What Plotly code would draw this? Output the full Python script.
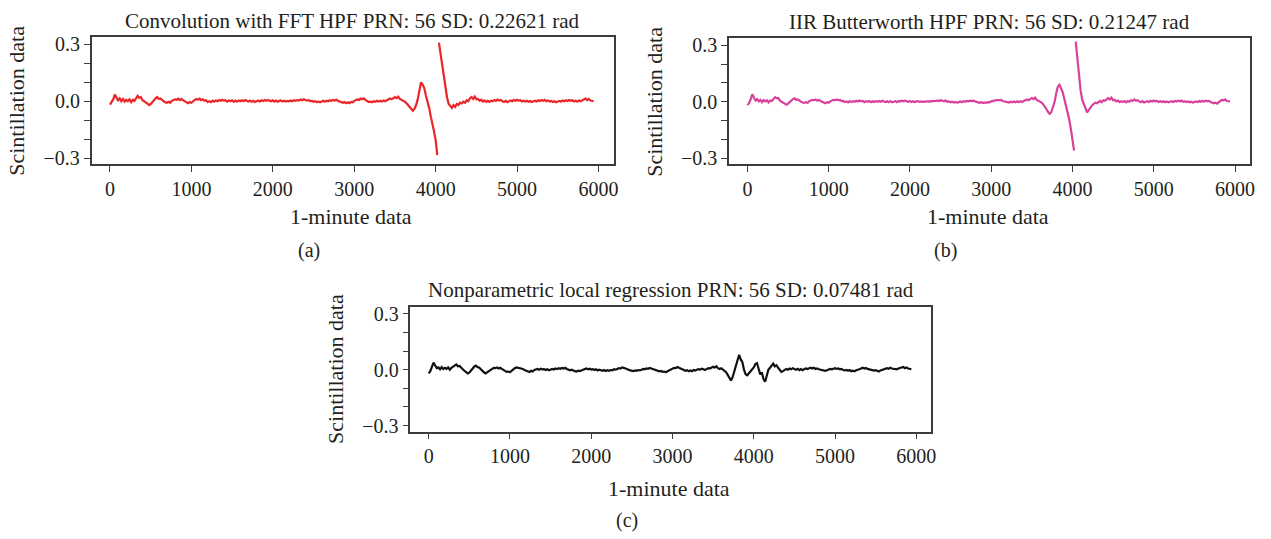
import plotly.graph_objects as go

# ---------------- data (values in milliradians) ----------------
STEP = 20            # minutes between listed samples
WRAP_MINUTE = 4030   # phase wrap: break in the FFT / IIR series
POST_START = 4040

fft_pre = [
    -18, -5, 10, 35, 20, 5,
    15, 0, 12, -2, 8,
    0, 10, -5, 8, 2,
    15, 28, 18, 22, 5,
    0, -8, -12, -20, -15,
    -5, 8, 15, 22, 12,
    15, 5, 0, -5, -8,
    -3, -8, 2, 5, 10,
    8, 14, 6, 12, 4,
    0, -5, -10, -4, -8,
    0, 6, 12, 8, 14,
    6, 10, 2, 5, -4,
    0, -5, 3, -2, 4,
    0, 6, 2, 8, 3,
    5, -2, 4, 0, 5,
    -3, 3, -2, 4, 0,
    5, 0, 6, 2, -2,
    3, -3, 2, -4, 0,
    4, -2, 5, 1, 6,
    2, 7, 3, 0, 5,
    -2, 3, -3, 2, 4,
    -1, 3, -2, 2, 0,
    4, 0, 5, 2, 6,
    4, 9, 5, 10, 6,
    3, 7, 0, 3, -3,
    0, -5, -1, -6, -2,
    2, -3, 3, 0, 5,
    2, 7, 4, 8, 3,
    0, -4, -8, -4, -10,
    -6, -10, -4, -6, 2,
    5, 10, 7, 14, 10,
    15, 6, 2, -4, -2,
    -5, 0, -3, 2, -2,
    3, -2, 4, 0, 5,
    8, 14, 10, 18, 22,
    16, 24, 12, 8, 2,
    -2, -10, -20, -30, -42,
    -50, -40, -20, 10, 50,
    100, 88, 70, 30, 0, -35, -80, -115, -160, -205, -285,
]
fft_post = [
    310, 250, 190, 140, 80, 20, -15, -25, -35,
    -20, -30, -15, -20, -8,
    -12, -2, -8, 5, 0,
    15, 22, 12, 25, 10,
    12, 3, 8, -2, 4,
    -3, 2, -4, 3, 0,
    6, 2, 9, 4, 7,
    0, -4, 2, -5, 0,
    4, 0, 6, 2, 8,
    3, 5, -1, 3, -2,
    2, -3, 1, -4, 0,
    3, -1, 5, 1, 6,
    2, 7, 0, 4, -2,
    1, -4, 0, -5, -2,
    2, -2, 4, 0, 5,
    1, 6, 2, 5, -1,
    3, -2, 4, 0, 6,
    10, 14, 6, 12, 4,
    2, 0,
]

iir_pre = [
    -18, -8, 12, 40, 22, 6,
    14, 2, 10, -2, 9,
    2, 8, -4, 6, 4,
    14, 24, 18, 20, 6,
    0, -6, -12, -16, -10,
    -2, 10, 14, 18, 10,
    12, 4, 0, -4, -6,
    -2, -6, 3, 6, 10,
    8, 12, 5, 10, 4,
    0, -4, -8, -3, -6,
    2, 6, 10, 8, 12,
    8, 10, 3, 4, -2,
    1, -4, 3, -2, 3,
    0, 5, 1, 6, 2,
    4, -2, 3, 0, 4,
    -3, 2, -2, 3, 0,
    4, 0, 5, 1, -2,
    2, -3, 3, -3, 0,
    3, -2, 4, 1, 5,
    2, 6, 2, 0, 4,
    -2, 2, -3, 2, 3,
    -1, 2, -2, 2, 0,
    3, 0, 4, 2, 5,
    3, 7, 4, 8, 5,
    2, 6, 0, 2, -3,
    0, -4, -1, -5, -2,
    1, -3, 3, 0, 4,
    2, 6, 3, 6, 2,
    0, -3, -6, -3, -7,
    -4, -6, -2, -3, 2,
    4, 8, 6, 10, 8,
    10, 4, 2, -3, -1,
    -4, 0, -3, 1, -3,
    2, -3, 3, -1, 4,
    6, 12, 8, 16, 20,
    14, 22, 10, 6, 0,
    -5, -14, -25, -40, -55,
    -65, -55, -30, 0, 45,
    80, 90, 70, 50, 15, -20, -55, -95, -145, -200, -260,
]
iir_post = [
    320, 235, 130, 60, 10, -15, -40, -57, -45,
    -30, -20, -12, -5, -8,
    -2, 4, -3, 8, 5,
    14, 20, 12, 22, 8,
    10, 2, 6, -2, 3,
    -2, 3, -3, 4, 0,
    8, 4, 12, 6, 8,
    2, -3, 3, -4, 0,
    3, -1, 5, 1, 6,
    2, 4, -1, 3, -2,
    2, -3, 1, -3, 0,
    3, -1, 4, 1, 5,
    2, 6, 0, 3, -2,
    1, -3, 0, -4, -1,
    2, -2, 4, 0, 4,
    1, 5, 2, 4, -1,
    -3, -8, -5, -10, -2,
    4, 10, 6, 12, 4,
    3, 1,
]

loess_vals = [
    -20, -8, 15, 38, 22, 8,
    12, 2, 14, 4, 10,
    4, 12, 0, 10, 18,
    22, 28, 18, 20, 8,
    2, -6, -12, -20, -16,
    -4, 10, 16, 22, 14,
    12, 2, -6, -14, -20,
    -14, -6, 2, 6, 10,
    8, 12, 6, 10, 4,
    0, -6, -12, -10, -14,
    -6, 2, 8, 12, 10,
    12, 6, 4, -2, -6,
    -8, -12, -6, -10, -2,
    0, 4, 0, 5, 2,
    3, -2, 2, -3, 0,
    4, 1, 6, 3, 8,
    5, 9, 6, 10, 4,
    2, -3, 0, -6, -8,
    -10, -5, -8, -2, 0,
    3, 6, 2, 5, 1,
    3, -2, 2, -4, 0,
    -3, -6, -2, -7, -3,
    -6, -2, -4, 2, 0,
    4, 8, 6, 12, 10,
    8, 4, 0, -4, -6,
    -8, -4, -6, -2, -4,
    0, 4, 2, 7, 5,
    9, 6, 3, 0, -4,
    -6, -9, -7, -12, -10,
    -14, -8, -4, 2, 6,
    10, 8, 14, 10, 6,
    2, -2, -6, -3, -8,
    -4, -8, -2, -5, 0,
    3, 0, 5, 2, -2,
    3, 8, 6, 12, 16,
    12, 18, 8, 4, 8,
    2, -6, -14, -28, -40,
    -58, -40, -10, 30, 60,
    80, 55, 40, 0, -25,
    -30, -20, -8, 0, 12,
    30, 35, 5, -25, -15,
    -50, -65, -30, 0, 10,
    25, 32, 18, 24, 10,
    0, -12, -8, -4, 4,
    0, 6, 2, 8, 4,
    0, 5, -2, 3, -3,
    2, 6, 3, 8, 10,
    6, 10, 4, 7, 2,
    0, -4, -2, -6, -3,
    0, 4, 2, 6, 8,
    4, 7, 2, 4, -2,
    -4, -1, -6, -2, -8,
    -5, -9, -3, -2, 2,
    6, 10, 6, 9, 4,
    2, -2, 0, -5, -3,
    -8, -10, -4, -2, 2,
    4, 8, 5, 10, 6,
    4, 0, 2, 6, 8,
    10, 14, 8, 12, 6,
    4, 2,
]

titles = [
    "Convolution with FFT HPF PRN: 56 SD: 0.22621 rad",
    "IIR Butterworth HPF PRN: 56 SD: 0.21247 rad",
    "Nonparametric local regression PRN: 56 SD: 0.07481 rad",
]
panel_tags = ["(a)", "(b)", "(c)"]
colors = ["#ec2527", "#d8409a", "#111111"]
x_ticks = [0, 1000, 2000, 3000, 4000, 5000, 6000]
y_ticks = [-0.3, -0.2, -0.1, 0.0, 0.1, 0.2, 0.3]
y_ticktext = ["\u22120.3", "", "", "0.0", "", "", "0.3"]
x_label = "1-minute data"
y_label = "Scintillation data"

assert len(fft_pre) == 202 and len(iir_pre) == 202, (len(fft_pre), len(iir_pre))
assert len(fft_post) == 96 and len(iir_post) == 96, (len(fft_post), len(iir_post))
assert len(loess_vals) == 298, len(loess_vals)


def wrapped(pre, post):
    x = [i * STEP for i in range(len(pre))] + [WRAP_MINUTE] + \
        [POST_START + i * STEP for i in range(len(post))]
    y = [v / 1000 for v in pre] + [None] + [v / 1000 for v in post]
    return x, y


series = [
    wrapped(fft_pre, fft_post),
    wrapped(iir_pre, iir_post),
    ([i * STEP for i in range(len(loess_vals))], [v / 1000 for v in loess_vals]),
]

W, H = 1271, 539
# plot boxes in pixels: (left, top, right, bottom)
boxes = [(92, 34, 616, 163), (732, 35, 1255, 163), (412, 308, 935, 435)]
# vertical offsets below box bottom for x-label and panel tag
xlab_off = [53, 53, 58]
tag_off = [88, 88, 90]

FONT = "Liberation Serif"
TXT = "#231f20"
AX = "#3c3c3c"

fig = go.Figure()
annotations = []
for i, ((x, y), box) in enumerate(zip(series, boxes)):
    n = "" if i == 0 else str(i + 1)
    fig.add_trace(go.Scatter(
        x=x, y=y, mode="lines", connectgaps=False,
        line=dict(color=colors[i], width=2.2),
        xaxis="x" + n, yaxis="y" + n, showlegend=False, hoverinfo="skip"))
    l, t, r, b = box
    common = dict(showline=True, mirror=True, linecolor=AX, linewidth=1.5,
                  ticks="outside", ticklen=6, tickwidth=1.3, tickcolor=AX,
                  showgrid=False, zeroline=False,
                  tickfont=dict(family=FONT, size=20, color=TXT))
    fig.layout["xaxis" + n] = dict(
        domain=[l / W, r / W], anchor="y" + n, range=[-225, 6185],
        tickmode="array", tickvals=x_ticks, **common)
    fig.layout["yaxis" + n] = dict(
        domain=[1 - b / H, 1 - t / H], anchor="x" + n, range=[-0.333, 0.337],
        tickmode="array", tickvals=y_ticks, ticktext=y_ticktext, **common)
    cx = (l + r) / 2
    annotations.append(dict(text=titles[i], x=cx / W, y=1 - (t - 17) / H,
                            font=dict(size=21)))
    annotations.append(dict(text=x_label, x=(cx - 2) / W, y=1 - (b + xlab_off[i]) / H,
                            font=dict(size=22)))
    annotations.append(dict(text=y_label, x=(l - 75) / W, y=1 - ((t + b) / 2) / H,
                            textangle=-90, font=dict(size=22)))
    annotations.append(dict(text=panel_tags[i], x=(cx - 44) / W,
                            y=1 - (b + tag_off[i]) / H, font=dict(size=20)))

for a in annotations:
    a.update(xref="paper", yref="paper", showarrow=False,
             xanchor="center", yanchor="middle")
    a["font"].update(family=FONT, color=TXT)

fig.update_layout(
    width=W, height=H, margin=dict(l=0, r=0, t=0, b=0),
    paper_bgcolor="white", plot_bgcolor="white",
    annotations=annotations,
)

fig.write_html("out.html")
